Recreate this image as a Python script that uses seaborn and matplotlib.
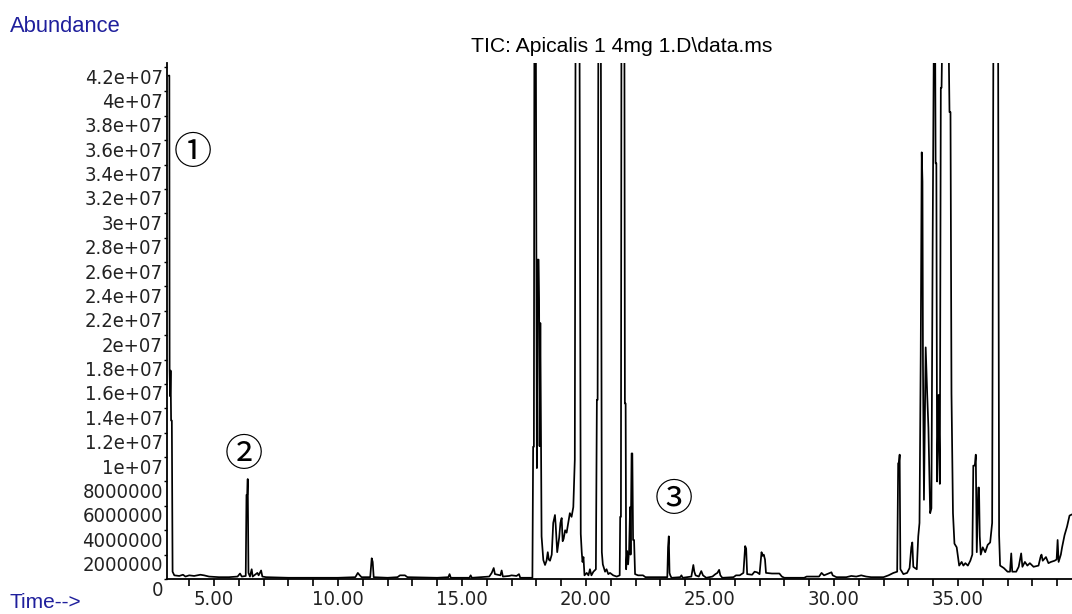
"""
TIC chromatogram (GC-MS) - Apicalis 1 4mg, redrawn with seaborn.
"""
import matplotlib
matplotlib.use("Agg")
import matplotlib.pyplot as plt
import matplotlib.transforms as mtransforms
from matplotlib import font_manager as fm
from matplotlib.textpath import TextPath
import numpy as np
import pandas as pd
import seaborn as sns

# retention time (min) and abundance (millions of counts)
TIME = [
    3.18, 3.20, 3.21, 3.23, 3.25, 3.27, 3.30, 3.33, 3.40, 3.60, 3.75, 3.85, 4.00, 4.20, 4.45,
    4.60, 4.80, 5.20, 5.60, 5.95, 6.05, 6.12, 6.28, 6.31, 6.34, 6.36, 6.39, 6.45, 6.52, 6.56,
    6.75, 6.80, 6.90, 6.95, 7.10, 8.00, 9.00, 10.00, 10.70, 10.80, 10.88, 10.95, 11.30, 11.36,
    11.40, 11.44, 12.00, 12.40, 12.50, 12.70, 12.80, 14.00, 14.45, 14.50, 14.55, 15.30, 15.35,
    15.40, 16.10, 16.20, 16.28, 16.33, 16.55, 16.60, 16.65, 16.90, 17.00, 17.20, 17.30, 17.35,
    17.84, 17.87, 17.90, 17.92, 17.98, 18.02, 18.05, 18.09, 18.11, 18.13, 18.16, 18.19, 18.21,
    18.28, 18.35, 18.41, 18.46, 18.50, 18.55, 18.62, 18.68, 18.75, 18.78, 18.84, 18.92, 18.97,
    19.02, 19.06, 19.10, 19.16, 19.22, 19.30, 19.35, 19.42, 19.49, 19.55, 19.58, 19.74, 19.79,
    19.83, 19.86, 19.90, 19.94, 20.03, 20.10, 20.16, 20.22, 20.30, 20.40, 20.44, 20.47, 20.50,
    20.60, 20.64, 20.68, 20.77, 20.83, 20.90, 20.97, 21.10, 21.24, 21.36, 21.38, 21.41, 21.43,
    21.55, 21.57, 21.60, 21.62, 21.66, 21.70, 21.74, 21.78, 21.80, 21.84, 21.87, 21.90, 21.94,
    21.98, 22.10, 22.30, 22.40, 23.28, 23.31, 23.34, 23.37, 23.40, 23.45, 23.80, 23.85, 23.90,
    24.25, 24.33, 24.37, 24.42, 24.55, 24.65, 24.72, 24.85, 25.10, 25.22, 25.30, 25.37, 25.42,
    25.50, 25.95, 26.05, 26.20, 26.35, 26.42, 26.46, 26.50, 26.70, 26.80, 26.90, 27.00, 27.08,
    27.12, 27.17, 27.22, 27.26, 27.50, 27.80, 27.90, 28.00, 28.80, 28.90, 29.40, 29.50, 29.60,
    29.90, 29.95, 30.10, 30.50, 30.70, 30.90, 31.10, 31.30, 31.50, 32.00, 32.20, 32.40, 32.55,
    32.59, 32.62, 32.65, 32.68, 32.80, 32.95, 33.05, 33.12, 33.16, 33.20, 33.34, 33.40, 33.45,
    33.50, 33.54, 33.57, 33.59, 33.63, 33.70, 33.76, 33.81, 33.88, 33.93, 33.98, 34.03, 34.08,
    34.10, 34.13, 34.16, 34.22, 34.27, 34.31, 34.34, 34.37, 34.62, 34.66, 34.70, 34.74, 34.80,
    34.86, 34.95, 35.05, 35.15, 35.22, 35.30, 35.40, 35.50, 35.58, 35.62, 35.68, 35.72, 35.76,
    35.82, 35.85, 35.88, 35.92, 36.00, 36.10, 36.20, 36.30, 36.38, 36.43, 36.62, 36.66, 36.70,
    36.85, 37.00, 37.10, 37.15, 37.19, 37.35, 37.45, 37.55, 37.60, 37.70, 37.80, 37.90, 38.05,
    38.25, 38.33, 38.37, 38.42, 38.55, 38.65, 38.75, 38.90, 38.98, 39.02, 39.06, 39.15, 39.20,
    39.30, 39.40, 39.50, 39.60,
]
ABUNDANCE_M = [
    41.3, 41.3, 17.1, 15.0, 17.1, 13.0, 13.0, 0.6, 0.3, 0.25, 0.35, 0.2, 0.3, 0.25, 0.35,
    0.3, 0.2, 0.15, 0.15, 0.2, 0.45, 0.2, 0.25, 6.9, 6.9, 8.2, 0.5, 0.2, 0.8, 0.2,
    0.5, 0.3, 0.7, 0.2, 0.15, 0.1, 0.1, 0.1, 0.15, 0.5, 0.3, 0.15, 0.15, 1.7,
    1.4, 0.15, 0.1, 0.15, 0.3, 0.3, 0.15, 0.1, 0.15, 0.4, 0.1, 0.1, 0.3,
    0.1, 0.2, 0.5, 0.9, 0.4, 0.3, 0.7, 0.2, 0.25, 0.3, 0.25, 0.4, 0.1,
    0.1, 10.85, 10.85, 45, 45, 9.1, 26.2, 26.2, 22.9, 10.9, 21.0, 10.9, 3.5,
    1.56, 1.15, 1.5, 2.2, 1.6, 1.5, 2.0, 4.6, 5.25, 4.4, 2.2, 3.4, 4.6,
    5.0, 3.1, 3.3, 4.0, 3.8, 4.8, 5.4, 5.1, 5.9, 9.8, 45, 45, 3.7,
    2.2, 1.4, 1.8, 0.3, 0.5, 0.3, 0.8, 0.3, 0.6, 0.8, 14.7, 14.7, 45,
    45, 2.2, 1.2, 0.6, 0.8, 0.4, 0.5, 0.3, 0.2, 0.3, 5.1, 5.1, 45,
    45, 14.4, 14.4, 0.8, 2.3, 1.2, 2.4, 5.9, 2.0, 10.3, 10.3, 3.2, 3.2,
    0.4, 0.3, 0.3, 0.15, 0.15, 2.6, 3.5, 0.5, 0.3, 0.1, 0.15, 0.3, 0.1,
    0.2, 1.15, 0.6, 0.3, 0.2, 0.65, 0.3, 0.1, 0.2, 0.4, 0.5, 0.75, 0.3,
    0.1, 0.15, 0.3, 0.3, 0.5, 2.7, 2.5, 0.4, 0.35, 0.6, 0.55, 0.4, 2.2,
    1.9, 2.0, 1.6, 0.5, 0.45, 0.45, 0.2, 0.1, 0.1, 0.2, 0.2, 0.5, 0.3,
    0.55, 0.3, 0.15, 0.15, 0.25, 0.2, 0.3, 0.2, 0.15, 0.15, 0.3, 0.5, 0.6,
    9.5, 9.5, 10.2, 0.8, 0.4, 0.5, 0.9, 2.6, 3.0, 1.0, 0.8, 3.5, 4.6,
    18.5, 35.0, 32.6, 17.7, 6.5, 19.0, 15.2, 12.4, 5.4, 5.8, 27.4, 45, 45,
    34.1, 34.1, 8.0, 15.1, 7.8, 40.3, 40.3, 45, 45, 38.3, 38.3, 15.2, 5.4,
    2.9, 2.6, 1.1, 1.4, 1.1, 1.3, 1.1, 1.5, 2.0, 9.3, 9.3, 10.2, 2.2,
    7.5, 7.5, 3.5, 2.0, 2.6, 2.2, 2.8, 3.0, 4.6, 45, 45, 3.6, 1.1,
    0.9, 0.6, 0.6, 2.1, 0.6, 0.6, 1.0, 2.1, 1.0, 1.4, 1.1, 1.3, 1.0,
    1.1, 1.8, 2.0, 1.5, 1.8, 1.3, 1.4, 1.5, 1.6, 3.2, 1.4, 2.0, 2.6,
    3.6, 4.3, 5.2, 5.3,
]

YTICKS = [i * 2e6 for i in range(22)]
YTICK_LABELS = [
    "0", "2000000", "4000000", "6000000", "8000000", "1e+07", "1.2e+07", "1.4e+07",
    "1.6e+07", "1.8e+07", "2e+07", "2.2e+07", "2.4e+07", "2.6e+07", "2.8e+07", "3e+07",
    "3.2e+07", "3.4e+07", "3.6e+07", "3.8e+07", "4e+07", "4.2e+07",
]
XTICKS_MAJOR = [5, 10, 15, 20, 25, 30, 35]
XTICK_LABELS = ["5.00", "10.00", "15.00", "20.00", "25.00", "30.00", "35.00"]

# circled peak markers: label, time, abundance
MARK_LABELS = ["\u2460", "\u2461", "\u2462"]
MARK_TIME = [4.15, 6.21, 23.55]
MARK_ABUND = [34.9e6, 10.1e6, 6.4e6]

TITLE = "TIC: Apicalis 1 4mg 1.D\\data.ms"
BLUE = "#1f1f9c"


def narrow_font():
    """Find a condensed sans face for the tick labels; fall back to Liberation Sans."""
    cands = []
    for f in fm.fontManager.ttflist:
        low = (f.name + " " + f.fname).lower()
        if f.style != "normal" or f.weight not in (400, "normal", "regular"):
            continue
        if "narrow" in low or "condensed" in low or str(f.stretch) in ("condensed", "semi-condensed"):
            if "semi" in low or "extra" in low or "ultra" in low:
                continue
            cands.append(f)
    order = ["liberation sans narrow", "arial narrow", "noto sans", "dejavu sans", "roboto", "open sans"]
    for key in order:
        for f in cands:
            if f.name.lower().startswith(key):
                return fm.FontProperties(fname=f.fname)
    return fm.FontProperties(family=["Liberation Sans", "DejaVu Sans"])


def size_for_width(prop, text, px, max_pt):
    p = prop.copy()
    p.set_size(10)
    w = TextPath((0, 0), text, prop=p).get_extents().width  # points at 10pt
    pt = 10 * (px * 72 / 100) / w
    return min(pt, max_pt)


df = pd.DataFrame({"time": TIME, "abund": np.array(ABUNDANCE_M) * 1e6})

sns.set_theme(style="white")
plt.rcParams["font.family"] = ["Liberation Sans", "DejaVu Sans"]

tick_fp = narrow_font()
tick_fp.set_size(size_for_width(tick_fp, "4.2e+07", 76, 18))

W, H = 1072, 614
fig = plt.figure(figsize=(W / 100, H / 100), dpi=100)
ax = fig.add_axes([167 / W, 1 - 579 / H, 1 - 167 / W, (579 - 63) / H])

sns.lineplot(data=df, x="time", y="abund", ax=ax, color="black", linewidth=1.25,
             estimator=None, sort=False)

ax.set_xlim(3.105, 39.6)
ax.set_ylim(0, 42.33e6)
ax.set_xlabel("")
ax.set_ylabel("")

for side in ["top", "right"]:
    ax.spines[side].set_visible(False)
for side in ["left", "bottom"]:
    ax.spines[side].set_color("black")
    ax.spines[side].set_linewidth(1.3)

ax.set_xticks(XTICKS_MAJOR)
ax.set_xticklabels(XTICK_LABELS, fontproperties=tick_fp, color="#222222")
ax.set_xticks(range(4, 40), minor=True)
ax.tick_params(axis="x", which="both", direction="out", length=5, width=1.2,
               color="black", bottom=True, pad=3)
ax.set_yticks(YTICKS)
ax.set_yticklabels(YTICK_LABELS, fontproperties=tick_fp, color="#222222")
ax.tick_params(axis="y", direction="out", length=2, width=1, color="black", left=True, pad=1)

# labels sit a little below their tick in the original software
shift = mtransforms.ScaledTranslation(0, -9 / 100, fig.dpi_scale_trans)
for lab in ax.get_yticklabels():
    lab.set_transform(lab.get_transform() + shift)

for lab, t, a in zip(MARK_LABELS, MARK_TIME, MARK_ABUND):
    ax.text(t, a, lab, ha="center", va="center", fontsize=27.5,
            family=["Noto Sans CJK JP", "DejaVu Sans"], color="black")

fig.text(622 / W, 1 - 46 / H, TITLE, ha="center", va="center", fontsize=15.2, color="black")
fig.text(10 / W, 1 - 27 / H, "Abundance", ha="left", va="center", fontsize=15.8, color=BLUE)
fig.text(10 / W, 1 - 602 / H, "Time-->", ha="left", va="center", fontsize=15, color=BLUE)

fig.savefig("out.png", dpi=100, facecolor="white")
